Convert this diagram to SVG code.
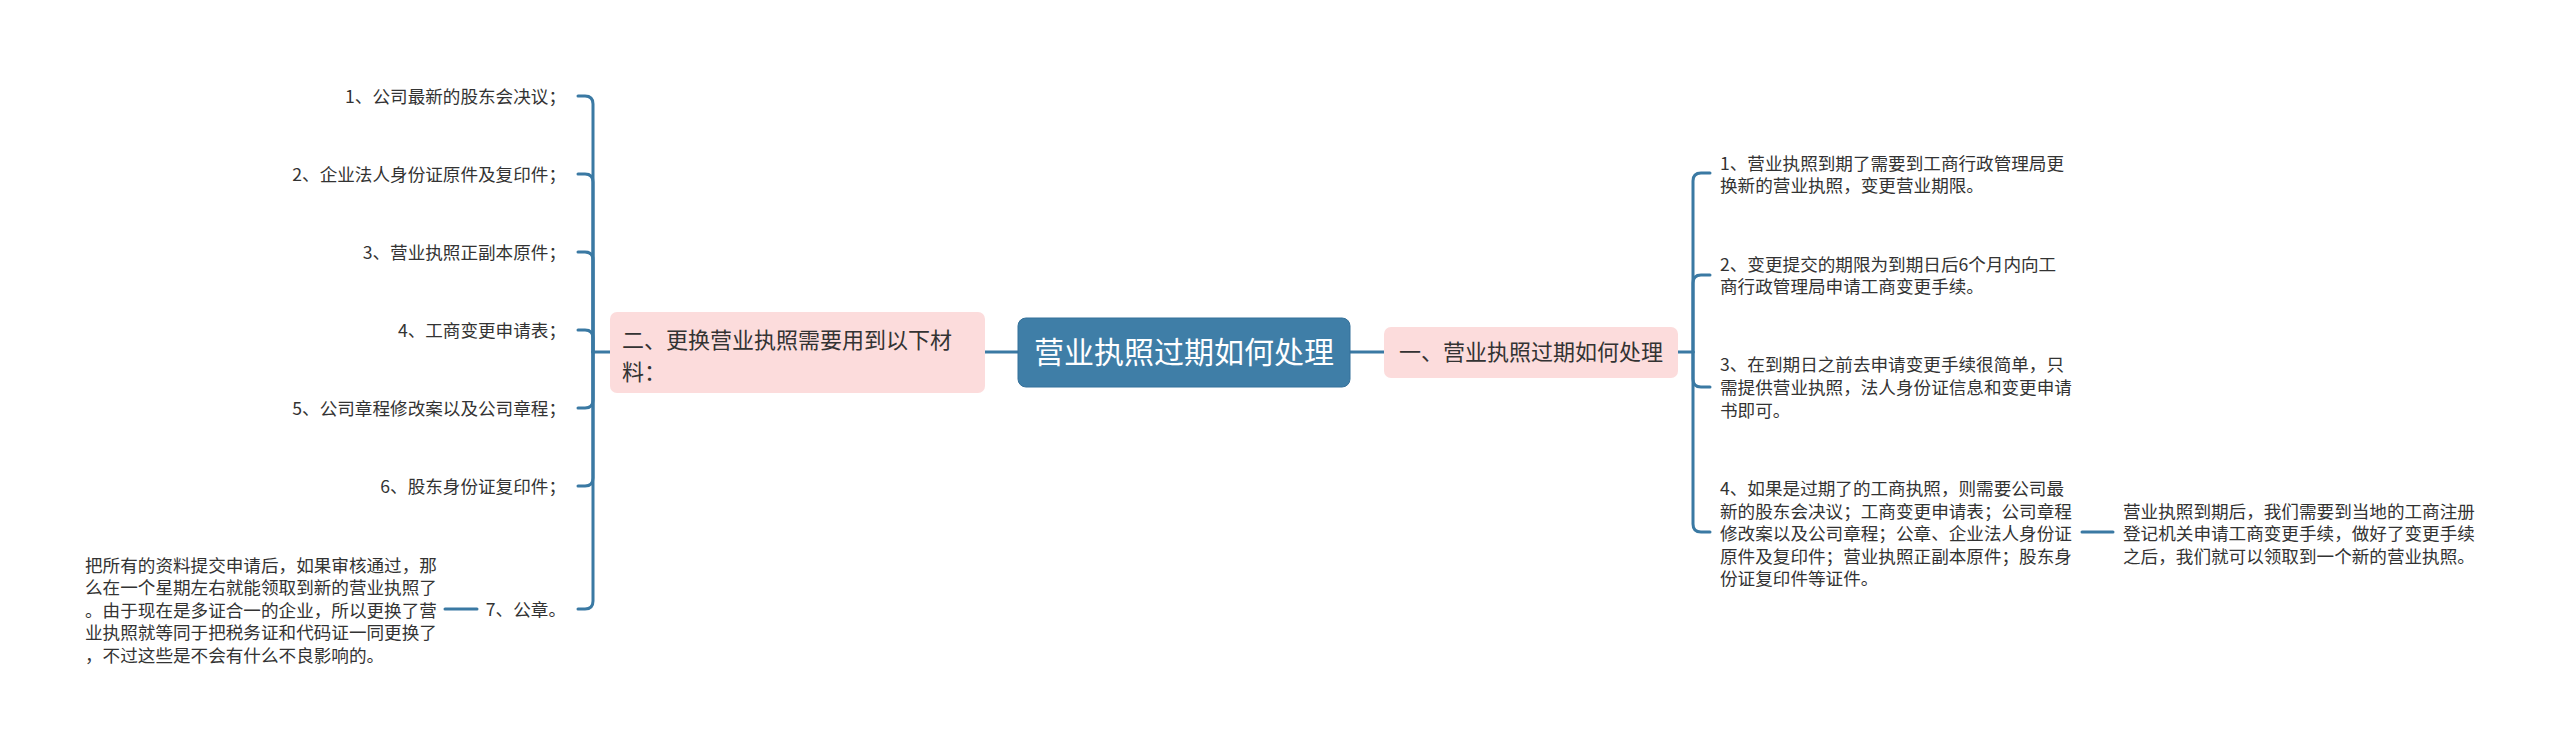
<svg xmlns="http://www.w3.org/2000/svg" width="2560" height="751" viewBox="0 0 2560 751">
<style>
text{font-family:"Noto Sans CJK SC","Noto Sans",sans-serif;fill:#333333}
.s{font-size:17.6px}
.i{font-size:17.6px;text-anchor:end}
.b{font-size:22px}
.r{font-size:30px;fill:#ffffff;text-anchor:middle}
.pink{fill:#fcdcdc}
.c path{fill:none;stroke:#3a79a3;stroke-width:3;stroke-linecap:round}
</style>
<rect width="2560" height="751" fill="#ffffff"/>
<g class="c" id="connectors">
<path d="M985 352 H1018"/>
<path d="M1350 352 H1384"/>
<path d="M610 352 H593"/>
<path d="M593 352 V104 Q593 96 585 96 H578"/>
<path d="M593 352 V182 Q593 174 585 174 H578"/>
<path d="M593 352 V260 Q593 252 585 252 H578"/>
<path d="M593 352 V338 Q593 330 585 330 H578"/>
<path d="M593 352 V400 Q593 408 585 408 H578"/>
<path d="M593 352 V478 Q593 486 585 486 H578"/>
<path d="M593 352 V601 Q593 609 585 609 H578"/>
<path d="M477 609 H445"/>
<path d="M1678 352 H1693"/>
<path d="M1693 352 V181 Q1693 173 1701 173 H1710"/>
<path d="M1693 352 V283 Q1693 275 1701 275 H1710"/>
<path d="M1693 352 V379 Q1693 387 1701 387 H1710"/>
<path d="M1693 352 V524 Q1693 532 1701 532 H1710"/>
<path d="M2082 532 H2113"/>
</g>
<g id="root">
<rect x="1018" y="318" width="332" height="69" rx="8" fill="#3f7ea7" stroke="#35719a" stroke-width="1"/>
<text class="r" x="1184" y="363">营业执照过期如何处理</text>
</g>
<g id="branch-left">
<rect class="pink" x="610" y="312" width="375" height="81" rx="7"/>
<text class="b" x="622" y="348">二、更换营业执照需要用到以下材</text>
<text class="b" x="622" y="380">料：</text>
</g>
<g id="branch-right">
<rect class="pink" x="1384" y="327" width="294" height="51" rx="7"/>
<text class="b" x="1531" y="360" text-anchor="middle">一、营业执照过期如何处理</text>
</g>
<g id="l1"><text class="i" x="566" y="102.5">1、公司最新的股东会决议；</text></g>
<g id="l2"><text class="i" x="566" y="180.5">2、企业法人身份证原件及复印件；</text></g>
<g id="l3"><text class="i" x="566" y="258.5">3、营业执照正副本原件；</text></g>
<g id="l4"><text class="i" x="566" y="336.5">4、工商变更申请表；</text></g>
<g id="l5"><text class="i" x="566" y="414.5">5、公司章程修改案以及公司章程；</text></g>
<g id="l6"><text class="i" x="566" y="492.5">6、股东身份证复印件；</text></g>
<g id="l7"><text class="i" x="566" y="615.5">7、公章。</text></g>
<g id="l7-leaf">
<text class="s" x="85" y="571.5">把所有的资料提交申请后，如果审核通过，那</text>
<text class="s" x="85" y="594">么在一个星期左右就能领取到新的营业执照了</text>
<text class="s" x="85" y="616.5">。由于现在是多证合一的企业，所以更换了营</text>
<text class="s" x="85" y="639">业执照就等同于把税务证和代码证一同更换了</text>
<text class="s" x="85" y="661.5">，不过这些是不会有什么不良影响的。</text>
</g>
<g id="r1">
<text class="s" x="1720" y="169.5">1、营业执照到期了需要到工商行政管理局更</text>
<text class="s" x="1720" y="192">换新的营业执照，变更营业期限。</text>
</g>
<g id="r2">
<text class="s" x="1720" y="270.5">2、变更提交的期限为到期日后6个月内向工</text>
<text class="s" x="1720" y="293">商行政管理局申请工商变更手续。</text>
</g>
<g id="r3">
<text class="s" x="1720" y="371">3、在到期日之前去申请变更手续很简单，只</text>
<text class="s" x="1720" y="394">需提供营业执照，法人身份证信息和变更申请</text>
<text class="s" x="1720" y="417">书即可。</text>
</g>
<g id="r4">
<text class="s" x="1720" y="495">4、如果是过期了的工商执照，则需要公司最</text>
<text class="s" x="1720" y="517.5">新的股东会决议；工商变更申请表；公司章程</text>
<text class="s" x="1720" y="540">修改案以及公司章程；公章、企业法人身份证</text>
<text class="s" x="1720" y="562.5">原件及复印件；营业执照正副本原件；股东身</text>
<text class="s" x="1720" y="585">份证复印件等证件。</text>
</g>
<g id="r4-leaf">
<text class="s" x="2123" y="517.5">营业执照到期后，我们需要到当地的工商注册</text>
<text class="s" x="2123" y="540">登记机关申请工商变更手续，做好了变更手续</text>
<text class="s" x="2123" y="562.5">之后，我们就可以领取到一个新的营业执照。</text>
</g>
</svg>
